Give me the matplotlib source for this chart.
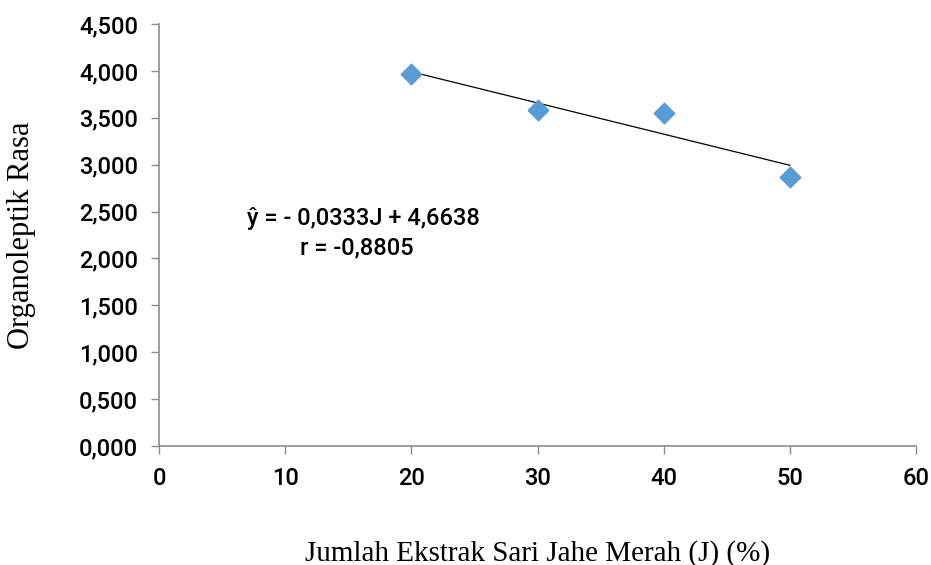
import matplotlib.pyplot as plt
import numpy as np
from matplotlib.ticker import FuncFormatter

jahe = np.array([20, 30, 40, 50])
rasa = np.array([3.967, 3.580, 3.553, 2.868])

fig = plt.figure(figsize=(9.31, 5.65), dpi=100)
ax = fig.add_axes([0.1708, 0.2106, 0.8131, 0.7469])

ax.scatter(jahe, rasa, marker='D', s=110, color='#5b9bd5', zorder=3)

# garis regresi linear
b, a = np.polyfit(jahe, rasa, 1)
xl = np.array([jahe.min(), jahe.max()])
ax.plot(xl, a + b * xl, color='black', lw=0.9, zorder=2)

ax.set_xlim(0, 60)
ax.set_ylim(0, 4.5)
ax.set_xticks(np.arange(0, 61, 10))
ax.set_yticks(np.arange(0, 4.51, 0.5))
ax.yaxis.set_major_formatter(FuncFormatter(lambda v, p: f'{v:.3f}'.replace('.', ',')))

for s in ['top', 'right']:
    ax.spines[s].set_visible(False)
for s in ['left', 'bottom']:
    ax.spines[s].set_color('#8c8c8c')
    ax.spines[s].set_linewidth(1.2)
ax.tick_params(colors='#8c8c8c', length=6, width=1, labelcolor='black', labelsize=17, pad=9)
for lab in ax.get_xticklabels() + ax.get_yticklabels():
    lab.set_family('Roboto')
    lab.set_weight('medium')

ax.set_xlabel('Jumlah Ekstrak Sari Jahe Merah (J) (%)', family='Liberation Serif',
              fontsize=21, labelpad=36)
ax.set_ylabel('Organoleptik Rasa', family='Liberation Serif', fontsize=22, labelpad=31)

fig.text(363 / 931, 1 - 218 / 565, 'ŷ = - 0,0333J + 4,6638', ha='center', va='center',
         family='Roboto', weight='medium', fontsize=17)
fig.text(357 / 931, 1 - 248 / 565, 'r = -0,8805', ha='center', va='center',
         family='Roboto', weight='medium', fontsize=17)

fig.savefig('out.png', dpi=100)
